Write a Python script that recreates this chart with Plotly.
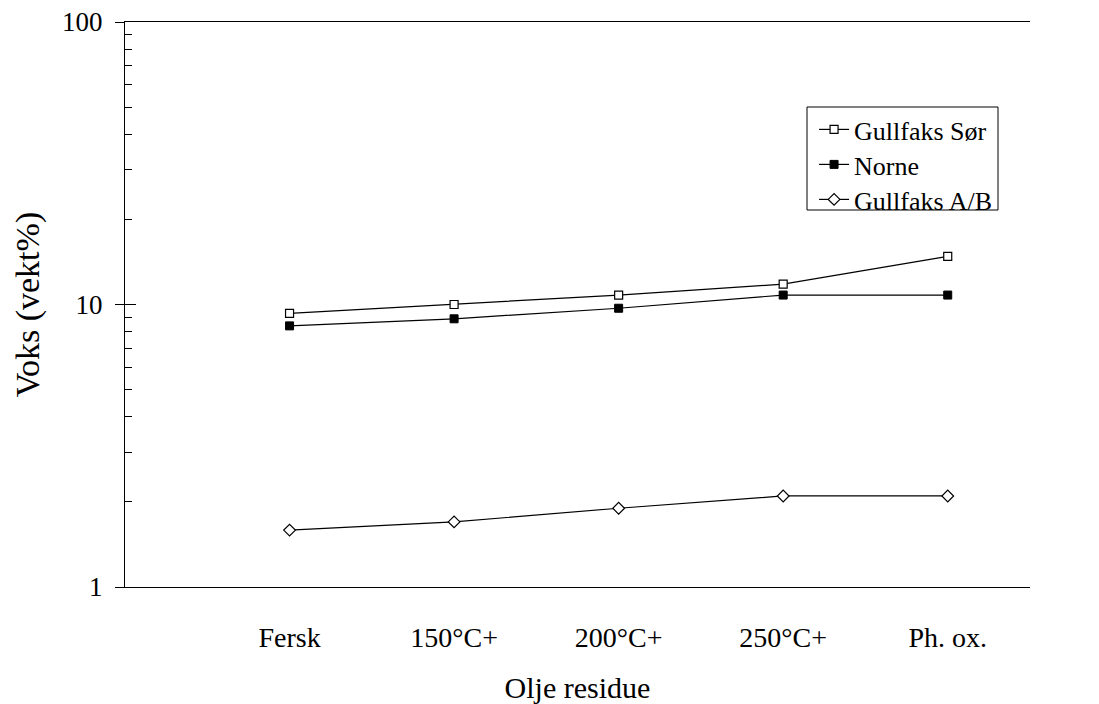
import plotly.graph_objects as go

categories = ["Fersk", "150°C+", "200°C+", "250°C+", "Ph. ox."]
gullfaks_sor = [9.3, 10.0, 10.8, 11.8, 14.8]
norne = [8.4, 8.9, 9.7, 10.8, 10.8]
gullfaks_ab = [1.59, 1.70, 1.90, 2.10, 2.10]

y_major = [1, 10, 100]
y_minor = [m * d for d in (1, 10) for m in range(2, 10)]

FONT = "Liberation Serif"
xpos = list(range(len(categories)))

fig = go.Figure()
fig.add_trace(go.Scatter(
    x=xpos, y=gullfaks_sor, name="Gullfaks Sør", mode="lines+markers", legend="legend",
    line=dict(color="black", width=1.2),
    marker=dict(symbol="square", size=8, color="white", line=dict(color="black", width=1.2))))
fig.add_trace(go.Scatter(
    x=xpos, y=norne, name="Norne", mode="lines+markers", legend="legend2",
    line=dict(color="black", width=1.2),
    marker=dict(symbol="square", size=8, color="black", line=dict(color="black", width=1))))
fig.add_trace(go.Scatter(
    x=xpos, y=gullfaks_ab, name="Gullfaks A/B", mode="lines+markers", legend="legend3",
    line=dict(color="black", width=1.2),
    marker=dict(symbol="diamond", size=9, color="white", line=dict(color="black", width=1.2))))

# inner part of the crossing major tick at 10
fig.add_shape(type="line", xref="paper", yref="y", x0=0, x1=11 / 905, y0=10, y1=10,
              line=dict(color="black", width=1))
# legend frame
fig.add_shape(type="rect", xref="paper", yref="paper",
              x0=(807 - 125) / 905, x1=(998 - 125) / 905,
              y0=(587 - 210) / 565, y1=(587 - 107) / 565,
              line=dict(color="black", width=1), fillcolor="rgba(0,0,0,0)", layer="above")


def leg(top_px):
    return dict(
        x=0.7614, y=(587 - top_px) / 565, xanchor="left", yanchor="top",
        bgcolor="rgba(0,0,0,0)", borderwidth=0,
        font=dict(family=FONT, size=26, color="black"),
        itemwidth=30,
    )


fig.update_layout(
    width=1099, height=704,
    margin=dict(l=125, r=69, t=22, b=117, autoexpand=False),
    paper_bgcolor="white", plot_bgcolor="white",
    font=dict(family=FONT, color="black", size=27),
    showlegend=True,
    legend=leg(106), legend2=leg(141), legend3=leg(176),
    xaxis=dict(
        tickmode="array", tickvals=xpos, ticktext=categories,
        range=[-1, 4.5], showline=True, linecolor="black", linewidth=1.2,
        mirror=True, ticks="", showgrid=False, zeroline=False, automargin=False,
        tickfont=dict(family=FONT, size=28), ticklabelstandoff=25,
        title=dict(text="Olje residue", font=dict(family=FONT, size=30), standoff=26),
    ),
    yaxis=dict(
        type="log", range=[0, 2], automargin=False,
        tickmode="array", tickvals=y_major, ticktext=["1", "10", "100"],
        showline=True, linecolor="black", linewidth=1.2,
        ticks="outside", ticklen=9, tickwidth=1, tickcolor="black",
        minor=dict(tickmode="array", tickvals=y_minor, ticks="inside", ticklen=7,
                   tickcolor="black", tickwidth=1, showgrid=False),
        showgrid=False, zeroline=False,
        tickfont=dict(family=FONT, size=27), ticklabelstandoff=7,
        title=dict(text="Voks (vekt%)", font=dict(family=FONT, size=34), standoff=12),
    ),
)

fig.write_html("out.html")
